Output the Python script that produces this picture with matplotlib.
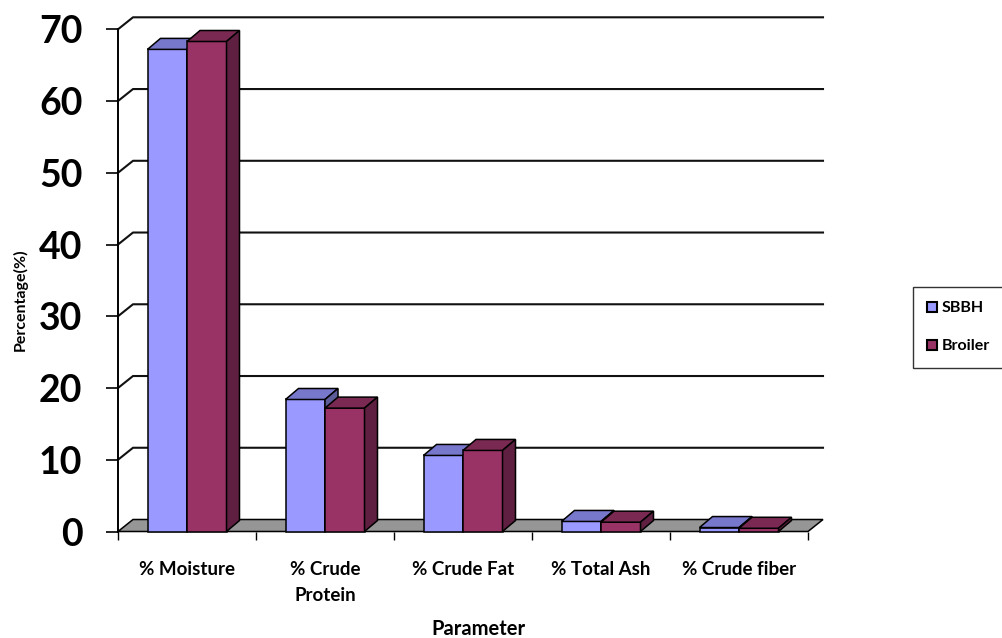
import matplotlib.pyplot as plt
from matplotlib.patches import Polygon, Patch

# data
categories = ["% Moisture", "% Crude\nProtein", "% Crude Fat", "% Total Ash", "% Crude fiber"]
sbbh = [67.2, 18.4, 10.6, 1.4, 0.55]
broiler = [68.3, 17.2, 11.3, 1.3, 0.45]
series_names = ["SBBH", "Broiler"]
yticks = [0, 10, 20, 30, 40, 50, 60, 70]

plt.rcParams["font.family"] = ["Lato", "DejaVu Sans"]

W, H = 1002, 638
fig = plt.figure(figsize=(W / 100, H / 100), dpi=100)

# plot area in pixels (front plane) and 3d depth offsets
x0_px, x1_px = 118, 808
y0_px, y70_px = 531.5, 29.3
wall_px = (15, 12)
bar_px = (13, 11)
n = len(categories)
x_scale = (x1_px - x0_px) / n          # px per category
y_scale = (y0_px - y70_px) / 70        # px per unit
wdx, wdy = wall_px[0] / x_scale, wall_px[1] / y_scale
bdx, bdy = bar_px[0] / x_scale, bar_px[1] / y_scale
bar_w = 39.5 / x_scale

ax = fig.add_axes([x0_px / W, 1 - y0_px / H,
                   (x1_px - x0_px + wall_px[0]) / W,
                   (y0_px - y70_px + wall_px[1]) / H])
ax.set_xlim(-0.5, n - 0.5 + wdx)
ax.set_ylim(0, 70 + wdy)
for s in ax.spines.values():
    s.set_visible(False)

# back wall gridlines + side diagonals
for v in yticks[1:]:
    ax.plot([-0.5, -0.5 + wdx, n - 0.5 + wdx], [v, v + wdy, v + wdy],
            color="#111111", lw=1.5, clip_on=False, zorder=1)
ax.plot([-0.5, -0.5], [0, 70], color="black", lw=1.4, clip_on=False, zorder=1)

# floor
floor = Polygon([(-0.5, 0), (n - 0.5, 0), (n - 0.5 + wdx, wdy), (-0.5 + wdx, wdy)],
                closed=True, facecolor="#969696", edgecolor="black", lw=1.1,
                clip_on=False, zorder=2)
ax.add_patch(floor)

colors = {
    "SBBH": ("#9999ff", "#7777cc", "#5c5c99"),
    "Broiler": ("#993366", "#7a2952", "#5e1f40"),
}


def draw_bar(x, h, cols, z):
    front, top, side = cols
    kw = dict(closed=True, edgecolor="black", lw=1.1, clip_on=False, zorder=z)
    ax.add_patch(Polygon([(x, 0), (x + bar_w, 0), (x + bar_w, h), (x, h)], facecolor=front, **kw))
    ax.add_patch(Polygon([(x, h), (x + bar_w, h), (x + bar_w + bdx, h + bdy), (x + bdx, h + bdy)],
                         facecolor=top, **kw))
    ax.add_patch(Polygon([(x + bar_w, 0), (x + bar_w + bdx, bdy), (x + bar_w + bdx, h + bdy),
                          (x + bar_w, h)], facecolor=side, **kw))


for i in range(n):
    draw_bar(i - bar_w, sbbh[i], colors["SBBH"], 3 + i)
    draw_bar(i, broiler[i], colors["Broiler"], 3.5 + i)

# axes ticks
ax.set_yticks(yticks)
ax.set_yticklabels([str(v) for v in yticks], fontsize=27, fontweight="bold")
ax.tick_params(axis="y", direction="out", length=8.6, width=1.2, pad=17)
ax.set_xticks([i - 0.5 for i in range(n + 1)])
ax.set_xticklabels([])
ax.tick_params(axis="x", which="major", direction="out", length=5.8, width=1.0)
ax.set_xticks(range(n), minor=True)
ax.set_xticklabels(categories, minor=True, fontsize=13.5, fontweight="bold", linespacing=1.65)
ax.tick_params(axis="x", which="minor", length=0, pad=21.5)

fig.text(20 / W, 1 - 300 / H, "Percentage(%)", rotation=90, fontsize=11.5,
         fontweight="bold", ha="center", va="center")
fig.text(478 / W, 1 - 629 / H, "Parameter", fontsize=14.5, fontweight="bold",
         ha="center", va="center")

handles = [Patch(facecolor=colors[s][0], edgecolor="black", lw=1.5) for s in series_names]
leg = fig.legend(handles, series_names, loc="upper left",
                 bbox_to_anchor=(913 / W, 1 - 287 / H), frameon=True, fancybox=False,
                 edgecolor="black", fontsize=11.5, handlelength=0.6, handleheight=0.6,
                 handletextpad=0.3, labelspacing=1.5, borderpad=0.9, borderaxespad=0)
leg.get_frame().set_linewidth(1.0)
for t in leg.get_texts():
    t.set_fontweight("bold")

fig.savefig("out.png", dpi=100)
